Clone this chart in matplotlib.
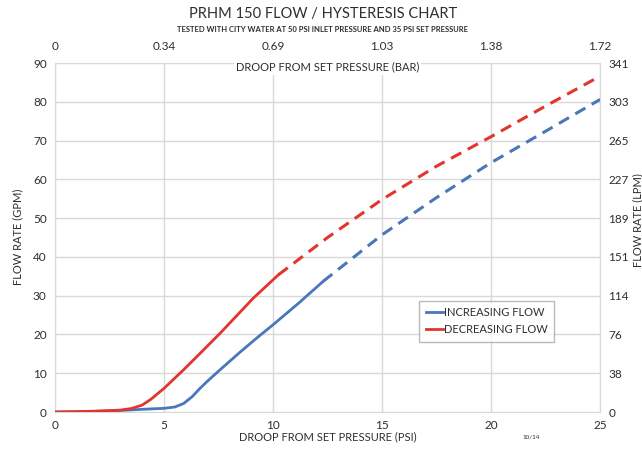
import matplotlib.pyplot as plt

# increasing flow (psi droop vs gpm), solid part then dashed part
inc_x = [0, 1, 2, 3, 4, 5, 5.5, 5.9, 6.3, 6.65, 7.0, 7.57, 8.5, 9.3, 10, 11.2, 12.3]
inc_y = [0, 0.05, 0.2, 0.4, 0.7, 0.95, 1.3, 2.2, 4.0, 6.1, 8.0, 10.9, 15.5, 19.3, 22.5, 28.2, 33.7]
inc_dash_x = [12.3, 15, 17.5, 20, 22.5, 25]
inc_dash_y = [33.7, 45.7, 55.3, 64.3, 72.4, 80.6]

# decreasing flow
dec_x = [0, 1, 2, 3, 3.5, 4, 4.4, 5, 5.88, 6.65, 7.57, 9.1, 10.25]
dec_y = [0, 0.1, 0.25, 0.5, 0.9, 1.8, 3.3, 6.1, 10.8, 15.1, 20.3, 29.4, 35.4]
dec_dash_x = [10.25, 12.5, 15, 17.5, 20, 22.5, 25]
dec_dash_y = [35.4, 45.0, 54.8, 63.4, 71.0, 78.9, 86.6]

psi_ticks = [0, 5, 10, 15, 20, 25]
bar_labels = ["0", "0.34", "0.69", "1.03", "1.38", "1.72"]
gpm_ticks = [0, 10, 20, 30, 40, 50, 60, 70, 80, 90]
lpm_labels = ["0", "38", "76", "114", "151", "189", "227", "265", "303", "341"]

blue = "#4a77b9"
red = "#e2352b"
txt = "#2e2e2e"
grid = "#d9d9d9"

plt.rcParams['font.family'] = ['Lato', 'DejaVu Sans']

fig = plt.figure(figsize=(6.42, 4.5), dpi=100)
ax = fig.add_axes([0.0857, 0.0844, 0.849, 0.7756])

ax.plot(inc_x, inc_y, color=blue, lw=2.0, label="INCREASING FLOW", zorder=3)
ax.plot(dec_x, dec_y, color=red, lw=2.0, label="DECREASING FLOW", zorder=3)
ax.plot(inc_dash_x, inc_dash_y, color=blue, lw=2.2, dashes=(3.8, 2.4), zorder=3)
ax.plot(dec_dash_x, dec_dash_y, color=red, lw=2.2, dashes=(3.8, 2.4), zorder=3)

ax.set_xlim(0, 25)
ax.set_ylim(0, 90)
ax.set_xticks(psi_ticks)
ax.set_yticks(gpm_ticks)
ax.grid(True, color=grid, lw=1)
ax.set_axisbelow(True)
for s in ax.spines.values():
    s.set_color(grid)
ax.tick_params(length=0, labelsize=8.5, labelcolor=txt, pad=6)

# top axis in bar
ax2 = ax.twiny()
ax2.set_xlim(0, 25)
ax2.set_xticks(psi_ticks)
ax2.set_xticklabels(bar_labels)
ax2.tick_params(length=0, labelsize=8.5, labelcolor=txt, pad=8)
for s in ax2.spines.values():
    s.set_visible(False)

# right axis in lpm
ax3 = ax.twinx()
ax3.set_ylim(0, 90)
ax3.set_yticks(gpm_ticks)
ax3.set_yticklabels(lpm_labels)
ax3.tick_params(length=0, labelsize=8.5, labelcolor=txt, pad=6)
for s in ax3.spines.values():
    s.set_visible(False)

ax.text(0.5, 0.988, "DROOP FROM SET PRESSURE (BAR)", transform=ax.transAxes,
        ha='center', va='center', fontsize=8, color=txt, zorder=5,
        bbox=dict(facecolor='white', edgecolor='none', pad=1.5))

leg = ax.legend(loc='upper left', bbox_to_anchor=(0.658, 0.335), fontsize=8,
                frameon=True, fancybox=False, handlelength=1.5, handletextpad=0.1,
                borderpad=0.6, labelspacing=0.5)
leg.get_frame().set_edgecolor("#a8a8a8")
leg.get_frame().set_linewidth(1)
for t in leg.get_texts():
    t.set_color(txt)

fig.text(0.503, 0.968, "PRHM 150 FLOW / HYSTERESIS CHART", ha='center', va='center',
         fontsize=10.5, color=txt)
fig.text(0.503, 0.935, "TESTED WITH CITY WATER AT 50 PSI INLET PRESSURE AND 35 PSI SET PRESSURE",
         ha='center', va='center', fontsize=5.5, color=txt, fontweight='bold')
fig.text(0.511, 0.029, "DROOP FROM SET PRESSURE (PSI)", ha='center', va='center',
         fontsize=8, color=txt)
fig.text(0.828, 0.029, "10/14", ha='center', va='center', fontsize=4.5, color=txt)
fig.text(0.028, 0.473, "FLOW RATE (GPM)", ha='center', va='center', rotation=90,
         fontsize=8, color=txt)
fig.text(0.993, 0.51, "FLOW RATE (LPM)", ha='center', va='center', rotation=90,
         fontsize=8, color=txt)

fig.savefig("out.png", dpi=100)
